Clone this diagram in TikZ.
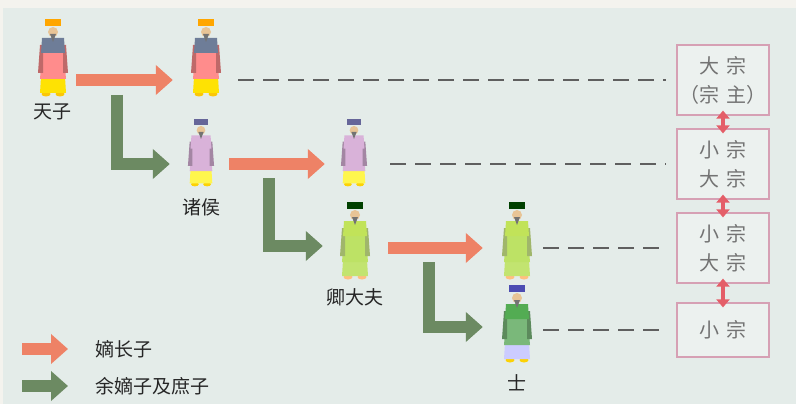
\documentclass[tikz,border=0pt]{standalone}
\usepackage{fontspec}
\setmainfont{Noto Sans CJK SC}
\usetikzlibrary{arrows.meta,positioning}
\definecolor{bgcol}{RGB}{228,236,233}
\definecolor{topcol}{RGB}{244,243,238}
\definecolor{zhangcol}{RGB}{238,130,102}
\definecolor{yucol}{RGB}{108,138,98}
\definecolor{boxcol}{RGB}{214,160,180}
\definecolor{kuangcol}{RGB}{236,241,239}
\definecolor{dashcol}{RGB}{95,95,95}
\definecolor{shuangcol}{RGB}{228,94,104}
\definecolor{skin}{RGB}{232,196,150}
\definecolor{paocol}{RGB}{110,125,152}
\tikzset{
  pics/renwu/.style n args={5}{code={
    \fill[#5] (-7,37) ellipse (4.5pt and 2.5pt) (7,37) ellipse (4.5pt and 2.5pt);
    \fill[#4] (-12,20) -- (12,20) -- (13,36) -- (-13,36) -- cycle;
    \fill[#3] (-10,-16) -- (10,-16) -- (13,22) -- (-13,22) -- cycle;
    \fill[#3!75!black] (-13,-12) -- (-10,-12) -- (-10,16) -- (-15,16) -- cycle;
    \fill[#3!75!black] (13,-12) -- (10,-12) -- (10,16) -- (15,16) -- cycle;
    \fill[#2] (-11,-19) -- (11,-19) -- (12,-4) -- (-12,-4) -- cycle;
    \fill[skin] (0,-25) circle (5pt);
    \fill[black!55] (-3,-23) -- (3,-23) -- (0,-15) -- cycle;
    \fill[#1] (-8,-38) rectangle (8,-31);
  }}
}
\begin{document}
\begin{tikzpicture}[x=1pt,y=-1pt,font=\fontsize{19}{22}\selectfont,
  ren/.style={minimum width=28pt,minimum height=78pt,inner sep=0pt},
  zi/.style={inner sep=0pt,text=black!85},
  zhang/.style={line width=12pt,zhangcol,-{Triangle[width=29pt,length=17pt]}},
  yu/.style={line width=12pt,yucol,line join=miter,-{Triangle[width=29pt,length=17pt]}},
  xu/.style={dashcol,line width=1.6pt,dash pattern=on 16pt off 9pt},
  kuang/.style={draw=boxcol,fill=kuangcol,line width=1.2pt,minimum width=92pt,minimum height=70pt,
    inner sep=0pt,align=center,text=black!55,font=\fontsize{20}{29}\selectfont},
  shuang/.style={shuangcol,line width=4pt,{Triangle[width=13pt,length=8pt]}-{Triangle[width=13pt,length=8pt]},
    shorten <=-5pt,shorten >=-5pt}]
  \useasboundingbox (0,0) rectangle (796,404);
  \fill[bgcol] (0,0) rectangle (796,404);
  \fill[topcol] (0,0) rectangle (796,8);
  \fill[topcol] (0,0) rectangle (3,404);
  % figures
  \node[ren] (tz1) at (53,57) {};
  \node[ren] (tz2) at (206,57) {};
  \node[ren,minimum height=68pt] (zh1) at (201,152) {};
  \node[ren,minimum height=68pt] (zh2) at (354,152) {};
  \node[ren] (qd1) at (355,240) {};
  \node[ren] (qd2) at (517,240) {};
  \node[ren] (shi) at (517,323) {};
  \pic at (tz1) {renwu={orange!70!yellow}{paocol}{red!45!white}{yellow!85!orange}{yellow!60!orange}};
  \pic at (tz2) {renwu={orange!70!yellow}{paocol}{red!45!white}{yellow!85!orange}{yellow!60!orange}};
  \pic[scale=0.87] at (zh1) {renwu={gray!80!blue}{violet!30!white}{violet!30!white}{yellow!70!white}{yellow!70!orange}};
  \pic[scale=0.87] at (zh2) {renwu={gray!80!blue}{violet!30!white}{violet!30!white}{yellow!70!white}{yellow!70!orange}};
  \pic at (qd1) {renwu={green!25!black}{yellow!65!green!70!white}{yellow!60!green!65!white}{yellow!60!green!60!white}{orange!50!white}};
  \pic at (qd2) {renwu={green!25!black}{yellow!65!green!70!white}{yellow!60!green!65!white}{yellow!60!green!60!white}{orange!50!white}};
  \pic at (shi) {renwu={blue!40!gray}{green!35!gray}{green!30!gray!80!white}{blue!20!white}{yellow!70!orange}};
  \node[zi,below=7pt of tz1] (tzl) {天子};
  \node[zi,below=12pt of zh1] (zhl) {诸侯};
  \node[zi,below=9pt of qd1] (qdl) {卿大夫};
  \node[zi,below=12pt of shi] (shil) {士};
  % boxes
  \node[kuang] (b1) at (723,80) {大\hspace{7pt}宗\\（宗\hspace{7pt}主）};
  \node[kuang] (b2) at (723,164) {小\hspace{7pt}宗\\大\hspace{7pt}宗};
  \node[kuang] (b3) at (723,248) {小\hspace{7pt}宗\\大\hspace{7pt}宗};
  \node[kuang,minimum height=54pt] (b4) at (723,330) {小\hspace{7pt}宗};
  \draw[shuang] (b1) -- (b2);
  \draw[shuang] (b2) -- (b3);
  \draw[shuang] (b3) -- (b4);
  % eldest sons
  \draw[zhang,shorten <=9pt,shorten >=19pt] ([yshift=-23pt]tz1.east) -- ([yshift=-23pt]tz2.west);
  \draw[zhang,shorten <=14pt,shorten >=15pt] ([yshift=-12pt]zh1.east) -- ([yshift=-12pt]zh2.west);
  \draw[zhang,shorten <=19pt,shorten >=20pt] ([yshift=-8pt]qd1.east) -- ([yshift=-8pt]qd2.west);
  % other sons
  \coordinate (g1) at (117,95);
  \coordinate (g2) at (269,178);
  \coordinate (g3) at (429,262);
  \draw[yu,shorten >=17pt] (g1) |- ([yshift=-12pt]zh1.west);
  \draw[yu,shorten >=18pt] (g2) |- ([yshift=-6pt]qd1.west);
  \draw[yu,shorten >=20pt] (g3) |- ([yshift=-4pt]shi.west);
  % dashed
  \draw[xu,shorten <=18pt,shorten >=10pt] ([yshift=-23pt]tz2.east) -- (b1.west);
  \draw[xu,shorten <=22pt,shorten >=10pt] ([yshift=-12pt]zh2.east) -- (b2.west);
  \draw[xu,shorten <=12pt,shorten >=10pt] ([yshift=-8pt]qd2.east) -- (b3.west);
  \draw[xu,shorten <=12pt,shorten >=10pt] ([yshift=-7pt]shi.east) -- (b4.west);
  % legend
  \node[zi,anchor=west] (lz) at (95,349) {嫡长子};
  \node[zi,anchor=west] (ly) at (95,386) {余嫡子及庶子};
  \coordinate (lz0) at (22,349);
  \coordinate (ly0) at (22,386);
  \draw[zhang,shorten >=27pt] (lz0) -- (lz.west);
  \draw[yu,shorten >=27pt] (ly0) -- (ly.west);
\end{tikzpicture}
\end{document}
